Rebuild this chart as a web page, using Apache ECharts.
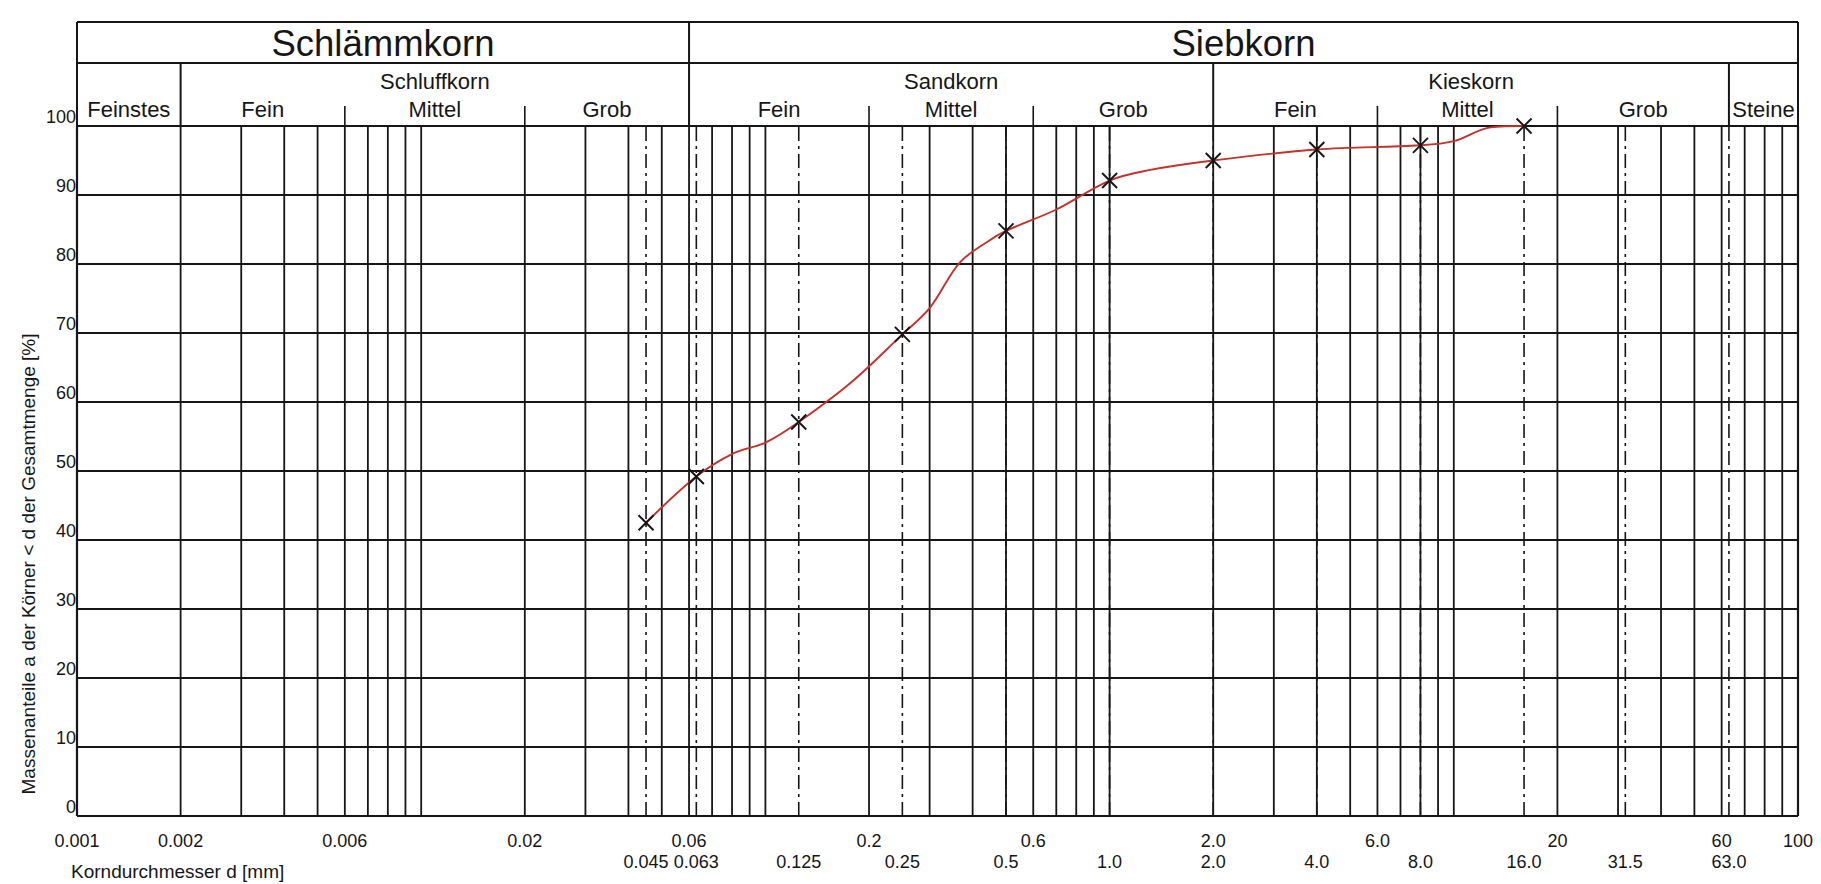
<!DOCTYPE html>
<html>
<head>
<meta charset="utf-8">
<title>Körnungslinie</title>
<script src="https://cdn.jsdelivr.net/npm/echarts@6/dist/echarts.min.js"></script>
<style>
  html, body { margin: 0; padding: 0; background: #ffffff; }
  #chart { width: 1821px; height: 884px; }
</style>
</head>
<body>
<div id="chart"></div>
<script>
// ---- sieve analysis: grain diameter d [mm] and passing mass [%] ----
const sieveSizes = [0.045, 0.063, 0.125, 0.25, 0.5, 1.0, 2.0, 4.0, 8.0, 16.0];
const passing    = [42.5, 49.2, 57.1, 69.8, 84.8, 92.1, 95.0, 96.6, 97.2, 100];

// ---- hand-drawn grading curve, traced as (d, %) pairs ----
const curveD = [0.045, 0.063, 0.081, 0.1, 0.125, 0.178, 0.25, 0.3, 0.367, 0.444,
                0.5, 0.7, 1.0, 1.3, 2.0, 4.0, 8.0, 10, 12.8, 16];
const curveP = [42.5, 49.2, 52.6, 54.1, 57.1, 62.9, 69.8, 73.6, 80.2, 83.3,
                84.8, 87.9, 92.1, 93.6, 95.0, 96.6, 97.2, 97.8, 99.8, 100];

// ---- logarithmic grid of the form ----
const gridDiameters = [
  0.001, 0.002, 0.003, 0.004, 0.005, 0.006, 0.007, 0.008, 0.009,
  0.01, 0.02, 0.03, 0.04, 0.05, 0.06, 0.07, 0.08, 0.09,
  0.1, 0.2, 0.3, 0.4, 0.5, 0.6, 0.7, 0.8, 0.9,
  1, 2, 3, 4, 5, 6, 7, 8, 9,
  10, 20, 30, 40, 50, 60, 70, 80, 90, 100
];

// ---- x tick labels, two rows ----
const tickRow1     = [0.001, 0.002, 0.006, 0.02, 0.06, 0.2, 0.6, 2, 6, 20, 60, 100];
const tickRow1Text = ['0.001', '0.002', '0.006', '0.02', '0.06', '0.2', '0.6', '2.0', '6.0', '20', '60', '100'];
// sieve apertures (also drawn as dash-dot lines)
const tickRow2     = [0.045, 0.063, 0.125, 0.25, 0.5, 1, 2, 4, 8, 16, 31.5, 63];
const tickRow2Text = ['0.045', '0.063', '0.125', '0.25', '0.5', '1.0', '2.0', '4.0', '8.0', '16.0', '31.5', '63.0'];

// ---- soil classification header ----
const mainBandNames = ['Schlämmkorn', 'Siebkorn'];
const mainBandFrom  = [0.001, 0.06];
const mainBandTo    = [0.06, 100];

const groupNames = ['Feinstes', 'Schluffkorn', 'Sandkorn', 'Kieskorn', 'Steine'];
const groupFrom  = [0.001, 0.002, 0.06, 2, 63];
const groupTo    = [0.002, 0.06, 2, 63, 100];

const fractionNames = ['Fein', 'Mittel', 'Grob', 'Fein', 'Mittel', 'Grob', 'Fein', 'Mittel', 'Grob'];
const fractionFrom  = [0.002, 0.006, 0.02, 0.06, 0.2, 0.6, 2, 6, 20];
const fractionTo    = [0.006, 0.02, 0.06, 0.2, 0.6, 2, 6, 20, 63];

const yTitle = 'Massenanteile a der Körner < d der Gesamtmenge [%]';
const xTitle = 'Korndurchmesser d [mm]';

// ---------------------------------------------------------------
const FONT = '"Liberation Sans", Arial, Helvetica, sans-serif';
const INK = '#161616';
const RED = '#c4322c';

// header geometry, measured upwards from the 100 % line
const HEAD_TOP = 104;
const HEAD_SPLIT = 63;
const HEAD_TICK = 20;
const TEXT_MAIN = 83;
const TEXT_GROUP = 45;
const TEXT_FRACTION = 17;

// header edges: 0 = through both rows, 1 = lower row only, 2 = short tick
const headerEdges = [];
mainBandFrom.concat([mainBandTo[mainBandTo.length - 1]]).forEach(v => headerEdges.push([v, 0]));
groupFrom.forEach(v => { if (mainBandFrom.indexOf(v) < 0) headerEdges.push([v, 1]); });
fractionFrom.forEach(v => { if (groupFrom.indexOf(v) < 0 && mainBandFrom.indexOf(v) < 0) headerEdges.push([v, 2]); });

// header captions centred (in log space) within their band
const headerTexts = [];
const headerTextNames = [];
mainBandNames.forEach((n, i) => { headerTexts.push([Math.sqrt(mainBandFrom[i] * mainBandTo[i]), 0]); headerTextNames.push(n); });
groupNames.forEach((n, i) => {
  const hasFractions = fractionFrom.some(f => f >= groupFrom[i] && f < groupTo[i]);
  headerTexts.push([Math.sqrt(groupFrom[i] * groupTo[i]), hasFractions ? 1 : 2]);
  headerTextNames.push(n);
});
fractionNames.forEach((n, i) => { headerTexts.push([Math.sqrt(fractionFrom[i] * fractionTo[i]), 2]); headerTextNames.push(n); });

const chart = echarts.init(document.getElementById('chart'), null, { renderer: 'svg', width: 1821, height: 884 });

const option = {
  animation: false,
  backgroundColor: '#ffffff',
  grid: { left: 77, right: 23, top: 126, bottom: 68, containLabel: false, outerBoundsMode: 'none' },
  xAxis: {
    type: 'log', logBase: 10, min: 0.001, max: 100,
    axisLine: { show: false }, axisTick: { show: false },
    axisLabel: { show: false }, splitLine: { show: false }
  },
  yAxis: {
    type: 'value', min: 0, max: 100, interval: 10,
    axisLine: { show: false }, axisTick: { show: false },
    splitLine: { show: true, lineStyle: { color: INK, width: 1.9 } },
    axisLabel: { fontSize: 18, fontFamily: FONT, color: INK, margin: 1, verticalAlign: 'bottom' }
  },
  graphic: [
    {
      type: 'text', x: 28, y: 564, rotation: Math.PI / 2,
      style: { text: yTitle, fontSize: 19, fontFamily: FONT, fill: INK, align: 'center', verticalAlign: 'middle' }
    },
    {
      type: 'text', x: 71, y: 871,
      style: { text: xTitle, fontSize: 19, fontFamily: FONT, fill: INK, align: 'left', verticalAlign: 'middle' }
    }
  ],
  series: [
    // sieve apertures, dash-dot
    {
      type: 'custom', silent: true, z: 1,
      data: tickRow2.map(d => [d, 0]),
      encode: { x: 0, y: 1 },
      renderItem: (params, api) => {
        const d = api.value(0);
        const p0 = api.coord([d, 0]);
        const p1 = api.coord([d, 100]);
        return { type: 'line', shape: { x1: p0[0], y1: p0[1], x2: p1[0], y2: p1[1] },
                 style: { stroke: INK, lineWidth: 1.6, lineDash: [14, 5, 3, 5] } };
      }
    },
    // vertical log grid lines
    {
      type: 'custom', silent: true, z: 2,
      data: gridDiameters.map(d => [d, 0]),
      encode: { x: 0, y: 1 },
      renderItem: (params, api) => {
        const d = api.value(0);
        const p0 = api.coord([d, 0]);
        const p1 = api.coord([d, 100]);
        const edge = (d === gridDiameters[0] || d === gridDiameters[gridDiameters.length - 1]);
        return { type: 'line', shape: { x1: p0[0], y1: p0[1], x2: p1[0], y2: p1[1] },
                 style: { stroke: INK, lineWidth: edge ? 2.2 : 1.8 } };
      }
    },
    // header frame: top line and row separator
    {
      type: 'custom', silent: true, clip: false, z: 2,
      data: [[mainBandFrom[0], 0, mainBandTo[mainBandTo.length - 1]]],
      encode: { x: 0, y: 1 },
      renderItem: (params, api) => {
        const a = api.coord([api.value(0), 100]);
        const b = api.coord([api.value(2), 100]);
        return { type: 'group', children: [
          { type: 'line', shape: { x1: a[0], y1: a[1] - HEAD_TOP, x2: b[0], y2: b[1] - HEAD_TOP },
            style: { stroke: INK, lineWidth: 2.2 } },
          { type: 'line', shape: { x1: a[0], y1: a[1] - HEAD_SPLIT, x2: b[0], y2: b[1] - HEAD_SPLIT },
            style: { stroke: INK, lineWidth: 2 } }
        ] };
      }
    },
    // header vertical edges and fraction ticks
    {
      type: 'custom', silent: true, clip: false, z: 2,
      data: headerEdges,
      encode: { x: 0, y: 1 },
      renderItem: (params, api) => {
        const level = headerEdges[params.dataIndex][1];
        const p = api.coord([api.value(0), 100]);
        const top = level === 0 ? HEAD_TOP : (level === 1 ? HEAD_SPLIT : HEAD_TICK);
        return { type: 'line', shape: { x1: p[0], y1: p[1] - top, x2: p[0], y2: p[1] },
                 style: { stroke: INK, lineWidth: level === 2 ? 1.6 : 2 } };
      }
    },
    // header captions
    {
      type: 'custom', silent: true, clip: false, z: 3,
      data: headerTexts.map(h => [h[0], 0]),
      encode: { x: 0, y: 1 },
      renderItem: (params, api) => {
        const level = headerTexts[params.dataIndex][1];
        const p = api.coord([api.value(0), 100]);
        const dy = level === 0 ? TEXT_MAIN : (level === 1 ? TEXT_GROUP : TEXT_FRACTION);
        return { type: 'text', x: p[0], y: p[1] - dy,
                 style: { text: headerTextNames[params.dataIndex], fontSize: level === 0 ? 36.5 : 22,
                          fontFamily: FONT, fill: INK, align: 'center', verticalAlign: 'middle' } };
      }
    },
    // x tick labels, upper row
    {
      type: 'custom', silent: true, clip: false, z: 3,
      data: tickRow1.map(d => [d, 0]),
      encode: { x: 0, y: 1 },
      renderItem: (params, api) => {
        const p = api.coord([api.value(0), 0]);
        return { type: 'text', x: p[0], y: p[1] + 25,
                 style: { text: tickRow1Text[params.dataIndex], fontSize: 18, fontFamily: FONT,
                          fill: INK, align: 'center', verticalAlign: 'middle' } };
      }
    },
    // x tick labels, lower row (sieve apertures)
    {
      type: 'custom', silent: true, clip: false, z: 3,
      data: tickRow2.map(d => [d, 0]),
      encode: { x: 0, y: 1 },
      renderItem: (params, api) => {
        const p = api.coord([api.value(0), 0]);
        return { type: 'text', x: p[0], y: p[1] + 46,
                 style: { text: tickRow2Text[params.dataIndex], fontSize: 18, fontFamily: FONT,
                          fill: INK, align: 'center', verticalAlign: 'middle' } };
      }
    },
    // grading curve
    {
      type: 'line', z: 5, silent: true,
      data: curveD.map((d, i) => [d, curveP[i]]),
      smooth: 0.35,
      showSymbol: false, symbol: 'none',
      lineStyle: { color: RED, width: 1.9 }
    },
    // measured points
    {
      type: 'scatter', z: 6, silent: true,
      data: sieveSizes.map((d, i) => [d, passing[i]]),
      symbol: 'path://M0,0L10,10M10,0L0,10',
      symbolSize: 15,
      itemStyle: { color: 'transparent', borderColor: INK, borderWidth: 1.9, opacity: 1 }
    }
  ]
};

chart.setOption(option);
</script>
</body>
</html>
